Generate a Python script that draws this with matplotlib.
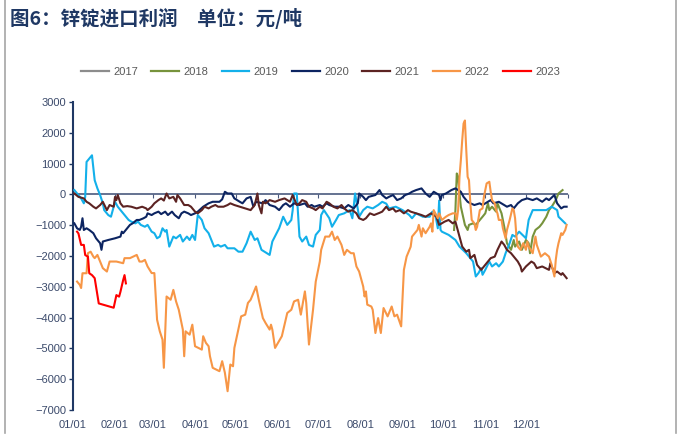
import numpy as np
import matplotlib
matplotlib.use("Agg")
import matplotlib.pyplot as plt
from matplotlib.lines import Line2D

plt.rcParams['font.family'] = ['Liberation Sans', 'Noto Sans CJK SC', 'DejaVu Sans']

# day of year (0 = 01/01) and import profit (yuan/ton)
d2017 = []
v2017 = []

d2018 = [281, 282, 283, 284, 285, 286, 289, 291, 292, 295, 297, 300, 302, 304, 306, 307, 309, 312, 313, 316,
         318, 320, 323, 325, 326, 329, 331, 334, 336, 337, 339, 341, 344, 346, 349, 351, 353, 356, 358, 361]
v2018 = [-1155, -510, 680, 570, 30, -400, -990, -1155, -990, -940, -990, -830, -725, -615, -290, -510, -400, -560, -290, -615,
         -1050, -1585, -1800, -1480, -1695, -1530, -1800, -1480, -1585, -1910, -1370, -1155, -1050, -940, -725, -510, -400, -185, 30, 140]

d2019 = [1, 3, 6, 8, 9, 10, 12, 14, 16, 18, 20, 22, 23, 26, 28, 31, 33, 37, 41, 43,
         46, 48, 50, 53, 55, 58, 60, 62, 64, 66, 68, 69, 71, 74, 76, 79, 81, 84, 86, 88,
         90, 92, 95, 97, 100, 102, 104, 107, 109, 112, 114, 116, 119, 122, 125, 128, 131, 134, 136, 139,
         145, 147, 152, 155, 158, 161, 162, 163, 165, 167, 169, 172, 174, 177, 179, 182, 183, 185, 189, 191,
         194, 196, 200, 204, 206, 207, 208, 211, 214, 217, 221, 225, 228, 231, 233, 238, 243, 248, 250, 253,
         258, 263, 265, 267, 269, 270, 271, 272, 277, 282, 285, 290, 295, 297, 299, 301, 302, 304, 307, 309,
         312, 314, 317, 319, 322, 324, 326, 329, 334, 336, 339, 344, 349, 353, 357, 358, 363]
v2019 = [140, 30, -130, -290, -80, 1055, 1165, 1270, 460, 195, -20, -290, -510, -670, -725, -240, -400, -615, -830, -885,
         -940, -885, -990, -1050, -990, -1210, -1260, -1425, -1370, -1100, -1210, -1155, -1695, -1370, -1425, -1315, -1530, -1370, -1480, -1315,
         -1480, -670, -830, -1100, -1260, -1480, -1695, -1640, -1695, -1640, -1750, -1750, -1750, -1860, -1860, -1585, -1210, -1480, -1425, -1800,
         -1965, -1530, -1100, -725, -990, -830, -510, 30, 30, -1370, -1530, -1370, -1640, -1695, -1315, -1155, -670, -510, -775, -1050,
         -830, -670, -615, -510, -775, -400, 30, -725, -510, -400, -455, -345, -240, -300, -455, -400, -510, -670, -775, -615,
         -725, -725, -560, -615, -1100, -200, -1150, -1210, -1315, -1480, -1695, -1910, -2180, -2665, -2555, -2395, -2610, -2450, -2180, -2340,
         -2235, -2340, -2180, -1910, -1585, -1315, -1370, -1210, -1425, -830, -510, -510, -510, -400, -510, -725, -940]

d2020 = [1, 3, 5, 6, 7, 8, 10, 12, 15, 17, 20, 21, 22, 26, 31, 35, 36, 37, 40, 42,
         44, 47, 49, 52, 54, 55, 58, 60, 63, 65, 68, 70, 73, 75, 78, 80, 82, 85, 87, 90,
         92, 96, 100, 103, 108, 110, 112, 114, 117, 119, 123, 125, 128, 131, 133, 135, 140, 142, 145, 149,
         152, 155, 157, 160, 163, 167, 171, 173, 176, 178, 182, 184, 187, 189, 193, 196, 200, 203, 205, 207,
         210, 211, 214, 216, 218, 223, 226, 228, 231, 233, 236, 239, 242, 245, 248, 250, 253, 257, 258, 260,
         263, 266, 270, 271, 272, 275, 279, 282, 286, 288, 291, 293, 296, 300, 302, 306, 308, 310, 314, 318,
         320, 323, 325, 328, 331, 335, 339, 342, 346, 349, 351, 355, 357, 360, 362, 364]
v2020 = [-940, -1100, -1155, -1050, -775, -1155, -1100, -1155, -1260, -1425, -1585, -1800, -1530, -1480, -1425, -1370, -1210, -1260, -1100, -990,
         -940, -830, -830, -775, -725, -615, -670, -615, -560, -640, -560, -670, -560, -670, -775, -615, -560, -615, -670, -615,
         -560, -400, -290, -240, -240, -160, 85, 30, 30, -130, -240, -290, -130, -80, -400, -240, -290, -185, -345, -400,
         -510, -345, -290, -400, -290, -345, -290, -400, -345, -400, -345, -400, -290, -345, -400, -400, -455, -345, -400, -455,
         -290, 30, -80, -185, -80, -20, 140, -20, -130, -80, -20, -185, -130, -20, 30, 85, 140, 195, 140, 30,
         -80, 85, -20, -185, -20, 30, 140, 195, 85, -80, -240, -290, -345, -290, -345, -240, -185, -290, -240, -345,
         -400, -345, -455, -290, -185, -130, -185, -130, -240, -130, -185, -20, -290, -455, -400, -400]

d2021 = [1, 4, 8, 10, 12, 15, 17, 20, 22, 25, 27, 30, 31, 32, 33, 35, 37, 40, 43, 47,
         51, 54, 55, 58, 60, 63, 65, 67, 69, 71, 74, 76, 77, 79, 82, 85, 87, 90, 92, 95,
         97, 100, 102, 105, 107, 111, 114, 116, 119, 123, 127, 131, 134, 136, 137, 139, 140, 142, 145, 149,
         152, 156, 160, 162, 165, 167, 169, 172, 174, 177, 179, 182, 184, 187, 189, 192, 195, 198, 200, 203,
         206, 209, 211, 214, 216, 219, 222, 226, 228, 231, 233, 236, 238, 241, 244, 247, 249, 253, 257, 260,
         264, 268, 270, 274, 277, 280, 282, 285, 287, 290, 292, 293, 296, 298, 301, 303, 306, 308, 311, 313,
         316, 318, 320, 323, 325, 328, 330, 331, 334, 338, 340, 342, 346, 351, 352, 353, 355, 357, 360, 361,
         362, 364]
v2021 = [30, -80, -130, -240, -290, -400, -455, -345, -240, -510, -345, -400, -80, -185, -20, -290, -400, -380, -400, -455,
         -400, -455, -510, -400, -290, -185, -130, -200, 30, -130, -80, -240, -20, -130, -345, -345, -400, -560, -615, -510,
         -400, -455, -400, -345, -400, -400, -345, -290, -345, -400, -455, -510, -345, 30, -345, -615, -240, -290, -185, -240,
         -185, -130, -240, -20, -345, -290, -185, -240, -400, -455, -510, -400, -455, -240, -290, -400, -455, -345, -455, -560,
         -510, -615, -775, -830, -775, -615, -670, -600, -560, -400, -510, -455, -560, -510, -615, -510, -560, -615, -670, -725,
         -615, -725, -990, -885, -830, -940, -885, -1370, -1695, -1860, -1800, -2070, -1965, -2290, -2450, -2340, -2180, -2070, -2020, -1800,
         -1530, -1640, -1800, -1910, -2020, -2180, -2340, -2505, -2340, -2180, -2235, -2395, -2340, -2450, -2235, -2340, -2555, -2505, -2610, -2555,
         -2610, -2720]

d2022 = [3, 5, 6, 7, 10, 11, 13, 15, 16, 18, 20, 22, 25, 27, 32, 37, 38, 42, 47, 49,
         51, 53, 55, 58, 60, 62, 64, 66, 67, 69, 72, 74, 76, 78, 80, 81, 82, 83, 86, 88,
         90, 95, 96, 98, 100, 101, 103, 108, 110, 112, 114, 116, 118, 119, 124, 127, 129, 131, 135, 137,
         140, 142, 145, 146, 147, 149, 154, 158, 161, 163, 166, 168, 171, 172, 174, 177, 179, 182, 183, 186,
         189, 191, 193, 195, 198, 200, 202, 205, 207, 209, 211, 214, 215, 216, 217, 220, 221, 223, 225, 227,
         229, 232, 235, 237, 239, 242, 244, 246, 249, 250, 252, 254, 255, 257, 258, 260, 263, 264, 265, 266,
         269, 270, 272, 275, 277, 280, 282, 283, 284, 285, 286, 287, 288, 289, 290, 291, 292, 293, 294, 296,
         297, 298, 300, 302, 303, 305, 307, 308, 309, 311, 312, 313, 314, 316, 317, 319, 320, 322, 324, 325,
         326, 327, 328, 330, 332, 334, 335, 336, 339, 341, 342, 345, 348, 351, 353, 355, 356, 357, 358, 360,
         361, 363, 364]
v2022 = [-2830, -2935, -3040, -2560, -2560, -1910, -1860, -2020, -2070, -1965, -2180, -2395, -2505, -2180, -2180, -2235, -2070, -2070, -1965, -2180,
         -2180, -2125, -2340, -2555, -2555, -4070, -4445, -4715, -5630, -3315, -3420, -3100, -3475, -3745, -4175, -4390, -5255, -4445, -4555, -4230,
         -4930, -5040, -4605, -4820, -4930, -5255, -5630, -5740, -5415, -5790, -6390, -5525, -5580, -4985, -3960, -3905, -3525, -3420, -2990, -3420,
         -4015, -4175, -4390, -4230, -4390, -4985, -4605, -3850, -3745, -3475, -3420, -3905, -3150, -3525, -4875, -3745, -2830, -2180, -1800, -1370,
         -1370, -1210, -1480, -1370, -1640, -1965, -1800, -1910, -1910, -2340, -2505, -2990, -3315, -3150, -3580, -3640, -3745, -4500, -4015, -4500,
         -3690, -3960, -3640, -3960, -3905, -4285, -2450, -2020, -1700, -1370, -1260, -1155, -990, -1370, -1100, -1260, -1050, -940, -1210, -510,
         -775, -615, -830, -725, -670, -615, -615, -830, -510, 570, 1110, 1755, 2300, 2400, 1435, 570, 460, -290, -830, -940,
         -1155, -1050, -510, -455, -80, 355, 410, 85, -185, -290, -510, -615, -830, -830, -1100, -1425, -1155, -830, -455, -510,
         -775, -1370, -1695, -1800, -1585, -1800, -1530, -1695, -1910, -1370, -1640, -2020, -1910, -2020, -2290, -2665, -2125, -1800, -1585, -1260,
         -1315, -1155, -990]

d2023 = [3, 4, 6, 8, 9, 11, 12, 14, 16, 19, 30, 32, 34, 35, 37, 38, 39]
v2023 = [-1210, -1265, -1640, -1640, -1970, -2020, -2560, -2620, -2720, -3540, -3680, -3270, -3320, -3160, -2780, -2620, -2890]

years = ['2017', '2018', '2019', '2020', '2021', '2022', '2023']
colors = ['#8c8c8c', '#77933c', '#13b0ea', '#0c2461', '#5c2322', '#f79646', '#ff0000']
series = [(d2017, v2017), (d2018, v2018), (d2019, v2019), (d2020, v2020),
          (d2021, v2021), (d2022, v2022), (d2023, v2023)]

month_days = [0, 31, 59, 90, 120, 151, 181, 212, 243, 273, 304, 334, 365]
month_labels = ['01/01', '02/01', '03/01', '04/01', '05/01', '06/01',
                '07/01', '08/01', '09/01', '10/01', '11/01', '12/01']

fig = plt.figure(figsize=(6.79, 4.37), dpi=100)
ax = fig.add_axes([0.1075, 0.0618, 0.729, 0.7048])

# zero line with small month ticks
ax.axhline(0, color='#4a5a7e', linewidth=1.2, zorder=1)
sec = ax.secondary_xaxis(0.7)
sec.set_xticks(month_days)
sec.tick_params(axis='x', direction='in', length=3, color='#4a5a7e', labelbottom=False, labeltop=False)
for s in sec.spines.values():
    s.set_visible(False)

handles = []
for yr, c, (d, v) in zip(years, colors, series):
    ax.plot(d, v, color=c, linewidth=1.5, zorder=3)
    handles.append(Line2D([], [], color=c, linewidth=1.6))

ax.set_xlim(0, 365)
ax.set_ylim(-7000, 3000)
ax.set_yticks(np.arange(-7000, 3001, 1000))
ax.set_xticks(month_days[:12])
ax.set_xticklabels(month_labels)
ax.tick_params(axis='x', length=0, pad=7, labelsize=8, labelcolor='#3b4a6b')
ax.tick_params(axis='y', length=3, width=1, color='#1f3864', pad=2, labelsize=8, labelcolor='#3b4a6b')

for k in ['top', 'right', 'bottom']:
    ax.spines[k].set_visible(False)
ax.spines['left'].set_color('#1f3864')
ax.spines['left'].set_linewidth(1.5)

leg = ax.legend(handles, years, loc='center', bbox_to_anchor=(0.5, 1.097), ncol=7, frameon=False,
                fontsize=8, handlelength=2.5, handletextpad=0.4, columnspacing=1.2)
for t in leg.get_texts():
    t.set_color('#595959')

fig.text(0.015, 0.958, '图6：锌锭进口利润\u3000单位：元/吨', fontsize=14, fontweight='bold',
         color='#1f3864', va='center', ha='left', family=['Noto Sans CJK SC', 'DejaVu Sans'])

# outer frame
fig.add_artist(Line2D([0.0075, 0.0075], [0.009, 1.0], transform=fig.transFigure, color='#a6a6a6', linewidth=1.2))
fig.add_artist(Line2D([0.9955, 0.9955], [0.009, 1.0], transform=fig.transFigure, color='#a6a6a6', linewidth=1.2))

fig.savefig('out.png', dpi=100)
